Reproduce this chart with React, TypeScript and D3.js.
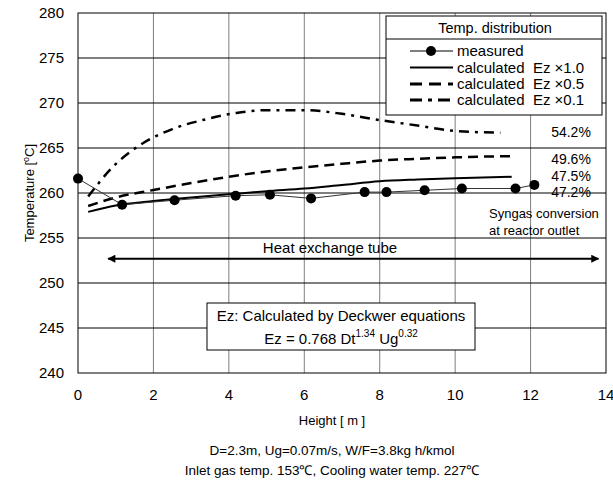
import * as d3 from "d3";

// measured temperatures along the tube
const measuredHeight = [0, 1.17, 2.56, 4.18, 5.09, 6.18, 7.6, 8.18, 9.19, 10.18, 11.6, 12.1];
const measuredTemp = [261.6, 258.7, 259.2, 259.7, 259.8, 259.4, 260.1, 260.1, 260.3, 260.5, 260.5, 260.9];

// calculated profiles
const calcHeight = [0.27, 1, 2, 3, 4, 5, 6, 7, 8, 9, 10, 11.5];
const ez10Temp = [257.9, 258.6, 259.1, 259.5, 259.85, 260.2, 260.5, 260.9, 261.3, 261.5, 261.65, 261.8];
const ez05Temp = [258.55, 259.5, 260.33, 261.1, 261.8, 262.4, 262.85, 263.25, 263.6, 263.8, 263.96, 264.1];
const ez01Height = [0.27, 0.9, 1.6, 2.5, 3.4, 4.2, 5.0, 6.0, 7.0, 8.0, 9.0, 10.0, 11.2];
const ez01Temp = [259.6, 262.8, 265.2, 267.1, 268.2, 268.9, 269.2, 269.2, 268.8, 268.1, 267.5, 266.9, 266.7];

const xTicks = [0, 2, 4, 6, 8, 10, 12, 14];
const yTicks = [240, 245, 250, 255, 260, 265, 270, 275, 280];

const conversionLabels = ["54.2%", "49.6%", "47.5%", "47.2%"];
const conversionTemps = [266.8, 263.8, 261.9, 260.1];

const legendItems = ["measured", "calculated  Ez ×1.0", "calculated  Ez ×0.5", "calculated  Ez ×0.1"];

const FONT = "'Liberation Sans', Arial, sans-serif";

export default function App() {
  const left = 78;
  const right = 606;
  const top = 13;
  const bottom = 373;

  const x = d3.scaleLinear().domain([0, 14]).range([left, right]);
  const y = d3.scaleLinear().domain([240, 280]).range([bottom, top]);

  const line = d3
    .line<[number, number]>()
    .x((d) => x(d[0]))
    .y((d) => y(d[1]))
    .curve(d3.curveMonotoneX);
  const straight = d3
    .line<[number, number]>()
    .x((d) => x(d[0]))
    .y((d) => y(d[1]));

  const measured = measuredHeight.map((h, i) => [h, measuredTemp[i]] as [number, number]);
  const ez10 = calcHeight.map((h, i) => [h, ez10Temp[i]] as [number, number]);
  const ez05 = calcHeight.map((h, i) => [h, ez05Temp[i]] as [number, number]);
  const ez01 = ez01Height.map((h, i) => [h, ez01Temp[i]] as [number, number]);

  const legendStyles = [
    { dash: "none", w: 1 },
    { dash: "none", w: 2 },
    { dash: "12,7", w: 3 },
    { dash: "12,6,4,6", w: 3 },
  ];
  const legendRows = [51, 67.5, 84, 100];

  const arrowY = y(252.7);

  return (
    <svg
      width={613}
      height={487}
      style={{ position: "absolute", left: 0, top: 0, fontFamily: FONT }}
    >
      <rect width={613} height={487} fill="#fff" />
      <defs>
        <marker id="ah" viewBox="0 0 10 10" refX="9" refY="5" markerWidth="5" markerHeight="4" orient="auto-start-reverse">
          <path d="M0,0 L10,5 L0,10 z" fill="#000" />
        </marker>
      </defs>

      {/* grid */}
      {xTicks.slice(1, -1).map((t) => (
        <line key={"gx" + t} x1={x(t)} x2={x(t)} y1={top} y2={bottom} stroke="#7f7f7f" strokeWidth={1} />
      ))}
      {yTicks.slice(1, -1).map((t) => (
        <line key={"gy" + t} x1={left} x2={right} y1={y(t)} y2={y(t)} stroke="#000" strokeWidth={1} />
      ))}
      <rect x={left} y={top} width={right - left} height={bottom - top} fill="none" stroke="#000" strokeWidth={1} />

      {/* axis labels */}
      {yTicks.map((t) => (
        <text key={"ty" + t} x={64} y={y(t)} dy="0.35em" textAnchor="end" fontSize={15} fill="#000">
          {t}
        </text>
      ))}
      {xTicks.map((t) => (
        <text key={"tx" + t} x={x(t)} y={400} textAnchor="middle" fontSize={15} fill="#000">
          {t}
        </text>
      ))}
      <text transform={`translate(34,${y(260)}) rotate(-90)`} textAnchor="middle" fontSize={13}>
        Temperature [<tspan dy={-5} fontSize={9}>o</tspan>
        <tspan dy={5}>C]</tspan>
      </text>
      <text x={332} y={425} textAnchor="middle" fontSize={13}>Height [ m ]</text>
      <text x={332} y={455} textAnchor="middle" fontSize={13.5}>D=2.3m, Ug=0.07m/s, W/F=3.8kg h/kmol</text>
      <text x={332} y={475} textAnchor="middle" fontSize={13.5}>Inlet gas temp. 153℃, Cooling water temp. 227℃</text>

      {/* curves */}
      <path d={line(ez10) ?? ""} fill="none" stroke="#000" strokeWidth={2} />
      <path d={line(ez05) ?? ""} fill="none" stroke="#000" strokeWidth={2.5} strokeDasharray="10,6" />
      <path d={line(ez01) ?? ""} fill="none" stroke="#000" strokeWidth={2.5} strokeDasharray="10,6,3,6" />
      <path d={straight(measured) ?? ""} fill="none" stroke="#333" strokeWidth={1} />
      {measured.map((d, i) => (
        <circle key={"m" + i} cx={x(d[0])} cy={y(d[1])} r={5} fill="#000" />
      ))}

      {/* heat exchange tube arrow */}
      <line x1={x(0.8)} x2={x(13.8)} y1={arrowY} y2={arrowY} stroke="#000" strokeWidth={2}
        markerStart="url(#ah)" markerEnd="url(#ah)" />
      <text x={330} y={arrowY - 6} textAnchor="middle" fontSize={15}>Heat exchange tube</text>

      {/* conversion labels */}
      {conversionLabels.map((c, i) => (
        <text key={c} x={571} y={y(conversionTemps[i])} dy="0.35em" textAnchor="middle" fontSize={14}>
          {c}
        </text>
      ))}
      <text x={489} y={218} fontSize={13}>Syngas conversion</text>
      <text x={489} y={235} fontSize={13}>at reactor outlet</text>

      {/* Ez box */}
      <rect x={207} y={303} width={268} height={47} fill="#fff" stroke="#000" strokeWidth={1} />
      <text x={341} y={321} textAnchor="middle" fontSize={15}>Ez: Calculated by Deckwer equations</text>
      <text x={341} y={344} textAnchor="middle" fontSize={15}>
        Ez = 0.768 Dt<tspan dy={-7} fontSize={10}>1.34</tspan>
        <tspan dy={7}> Ug</tspan>
        <tspan dy={-7} fontSize={10}>0.32</tspan>
      </text>

      {/* legend */}
      <rect x={386} y={16} width={216} height={99} fill="#fff" stroke="#000" strokeWidth={1} />
      <line x1={386} x2={602} y1={39} y2={39} stroke="#000" strokeWidth={1} />
      <text x={495} y={33} textAnchor="middle" fontSize={14.5}>Temp. distribution</text>
      {legendItems.map((label, i) => (
        <g key={label}>
          <line x1={410} x2={453} y1={legendRows[i]} y2={legendRows[i]} stroke="#000"
            strokeWidth={legendStyles[i].w} strokeDasharray={legendStyles[i].dash} />
          {i === 0 && <circle cx={431} cy={legendRows[i]} r={5} fill="#000" />}
          <text x={457} y={legendRows[i]} dy="0.35em" fontSize={15} style={{ whiteSpace: "pre" }}>{label}</text>
        </g>
      ))}
    </svg>
  );
}
